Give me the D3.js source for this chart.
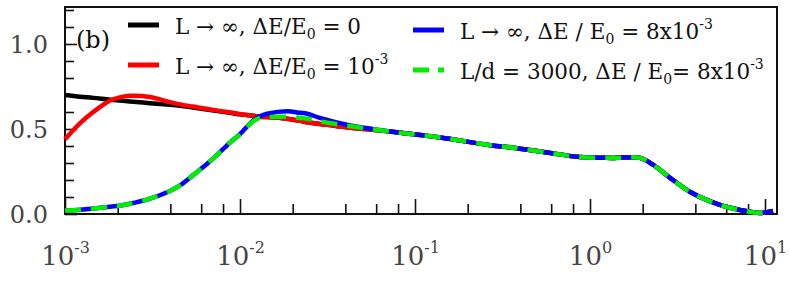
<!DOCTYPE html>
<html>
<head>
<meta charset="utf-8">
<script src="https://cdn.jsdelivr.net/npm/d3@7"></script>
<style>
  body { margin: 0; background: #fff; }
  svg { display: block; }
  .tick text { font-family: "DejaVu Serif", serif; fill: #444; }
  .leg { font-family: "DejaVu Serif", serif; font-size: 21.5px; fill: #111; }
</style>
</head>
<body>
<div id="grafica"></div>
<script>
// datos (b)
const xVals = [0.001, 0.00122, 0.00145, 0.00181, 0.00206, 0.00235, 0.00306, 0.00398, 0.00454, 0.00538,
  0.00675, 0.0091, 0.0100, 0.0119, 0.0130, 0.0143, 0.0186, 0.0220, 0.0242, 0.0286,
  0.0408, 0.0719, 0.139, 0.269, 0.363, 0.568, 0.877, 1.35, 1.93, 2.29,
  2.98, 3.88, 5.53, 7.19, 9.35, 11.1]
const negro = [0.70, 0.69, 0.683, 0.672, 0.667, 0.662, 0.652, 0.642, 0.636, 0.626,
  0.612, 0.592, 0.586, 0.578, 0.572, 0.57, 0.56, 0.548, 0.54, 0.53,
  0.51, 0.485, 0.45, 0.405, 0.39, 0.362, 0.335, 0.33, 0.33, 0.29,
  0.20, 0.12, 0.053, 0.024, 0.006, 0.018]
const rojo = [0.44, 0.535, 0.60, 0.668, 0.686, 0.695, 0.688, 0.658, 0.645, 0.632,
  0.615, 0.595, 0.588, 0.578, 0.572, 0.57, 0.56, 0.548, 0.54, 0.53,
  0.51, 0.485, 0.45, 0.405, 0.39, 0.362, 0.335, 0.33, 0.33, 0.29,
  0.20, 0.12, 0.053, 0.024, 0.006, 0.018]
const azul = [0.02, 0.025, 0.032, 0.043, 0.049, 0.06, 0.09, 0.135, 0.168, 0.228,
  0.31, 0.435, 0.47, 0.55, 0.575, 0.59, 0.605, 0.595, 0.59, 0.565,
  0.525, 0.485, 0.45, 0.405, 0.39, 0.362, 0.335, 0.33, 0.33, 0.29,
  0.20, 0.12, 0.053, 0.024, 0.006, 0.018]
const verde = [0.02, 0.025, 0.032, 0.043, 0.049, 0.06, 0.09, 0.135, 0.168, 0.228,
  0.31, 0.435, 0.47, 0.545, 0.565, 0.57, 0.572, 0.565, 0.56, 0.545,
  0.52, 0.485, 0.45, 0.405, 0.39, 0.362, 0.335, 0.33, 0.33, 0.29,
  0.20, 0.12, 0.053, 0.024, 0.006, 0.018]
const xTicks = [1e-3, 1e-2, 1e-1, 1, 10]
const xExps = ["-3", "-2", "-1", "0", "1"]
const yTicks = [0, 0.5, 1.0]

const anchoTotal = 789
const altoTotal = 286
const margins = { top: 7, right: 12, bottom: 72, left: 65 }
const ancho = anchoTotal - margins.left - margins.right
const alto = altoTotal - margins.top - margins.bottom

const svg = d3.select("#grafica")
  .append("svg")
  .attr("width", anchoTotal)
  .attr("height", altoTotal)
const g = svg.append("g")
  .attr("transform", `translate(${margins.left}, ${margins.top})`)

const x = d3.scaleLog().domain([1e-3, 11.71]).range([0, ancho])
const y = d3.scaleLinear().domain([0, 1.2176]).range([alto, 0])

// ticks menores
const xMinor = []
for (let e = -3; e <= 1; e++) {
  for (const m of [2, 4, 6, 8]) {
    const v = m * Math.pow(10, e)
    if (v <= 11.71) xMinor.push(v)
  }
}
const yMinor = d3.range(0, 12.5).map((d) => d / 10).filter((v) => !yTicks.some((t) => Math.abs(t - v) < 1e-6))

g.append("g")
  .attr("transform", `translate(0, ${alto})`)
  .call(d3.axisBottom(x).tickValues(xMinor).tickSize(-10).tickFormat(""))
g.append("g")
  .attr("transform", `translate(0, ${alto})`)
  .call(d3.axisBottom(x).tickValues(xTicks).tickSize(-15).tickFormat(""))
  .call((a) => a.selectAll(".tick").append("text")
    .attr("y", 51)
    .attr("text-anchor", "middle")
    .attr("fill", "#444")
    .style("font-size", "26px")
    .each(function (d, i) {
      const t = d3.select(this)
      t.append("tspan").text("10")
      t.append("tspan").attr("dy", -12).style("font-size", "16px").text(xExps[i])
    }))
g.append("g")
  .call(d3.axisLeft(y).tickValues(yMinor).tickSize(-9).tickFormat(""))
g.append("g")
  .call(d3.axisLeft(y).tickValues(yTicks).tickSize(-12).tickPadding(17).tickFormat(d3.format(".1f")))
  .call((a) => a.selectAll(".tick text").style("font-size", "24px").attr("dy", "0.36em"))

g.selectAll(".domain").remove()
g.selectAll(".tick line").attr("stroke", "#111").attr("stroke-width", 1.6)

// marco
g.append("rect")
  .attr("width", ancho)
  .attr("height", alto)
  .attr("fill", "none")
  .attr("stroke", "#111")
  .attr("stroke-width", 2)

const linea = (serie) => d3.line()
  .x((d, i) => x(xVals[i]))
  .y((d) => y(d))
  .curve(d3.curveCatmullRom.alpha(0.5))(serie)

const series = [
  { datos: negro, color: "#000000", dash: null },
  { datos: rojo, color: "#ff0000", dash: null },
  { datos: azul, color: "#0000ff", dash: null },
  { datos: verde, color: "#00ee00", dash: "16,10" },
]
g.selectAll("path.curva")
  .data(series)
  .enter()
  .append("path")
  .attr("class", "curva")
  .attr("d", (d) => linea(d.datos))
  .attr("fill", "none")
  .attr("stroke", (d) => d.color)
  .attr("stroke-width", 4.5)
  .attr("stroke-dasharray", (d) => d.dash)

// leyenda
const leyenda = [
  { x: 128, y: 25, color: "#000000", dash: null, t: ["L → ∞, ΔE/E", "0", " = 0", null] },
  { x: 128, y: 65, color: "#ff0000", dash: null, t: ["L → ∞, ΔE/E", "0", " = 10", "-3"] },
  { x: 413, y: 30, color: "#0000ff", dash: null, t: ["L → ∞, ΔE / E", "0", " = 8x10", "-3"] },
  { x: 413, y: 70, color: "#00ee00", dash: "16,9", t: ["L/d = 3000, ΔE / E", "0", "= 8x10", "-3"] },
]
leyenda.forEach((l) => {
  svg.append("line")
    .attr("x1", l.x).attr("x2", l.x + 31)
    .attr("y1", l.y).attr("y2", l.y)
    .attr("stroke", l.color)
    .attr("stroke-width", 5)
    .attr("stroke-dasharray", l.dash)
  const t = svg.append("text").attr("class", "leg")
    .attr("x", l.x + 47).attr("y", l.y + 9)
  t.append("tspan").text(l.t[0])
  t.append("tspan").attr("dy", 5).style("font-size", "14px").text(l.t[1])
  t.append("tspan").attr("dy", -5).text(l.t[2])
  if (l.t[3]) t.append("tspan").attr("dy", -10).style("font-size", "14px").text(l.t[3])
})

svg.append("text")
  .attr("class", "leg")
  .attr("x", 76).attr("y", 48)
  .style("font-size", "24px")
  .text("(b)")
</script>
</body>
</html>
